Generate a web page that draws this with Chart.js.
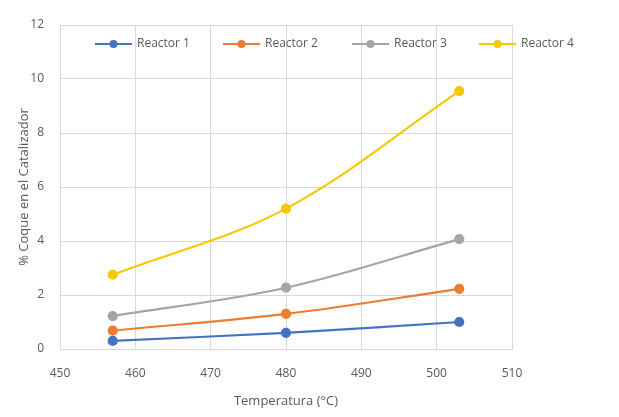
<!DOCTYPE html>
<html lang="es">
<head>
    <meta charset="UTF-8">
    <title>Coque en el catalizador</title>
    <script src="https://cdn.jsdelivr.net/npm/chart.js"></script>
    <style>
        html, body { margin: 0; padding: 0; background: #fff; }
        #wrap { width: 619px; height: 417px; }
    </style>
</head>
<body>
<div id="wrap"><canvas id="chart"></canvas></div>
<script>
    // temperatura (°C) y % coque por reactor
    var temps = [457, 480, 503]
    var reactor1 = [0.3, 0.6, 1.0]
    var reactor2 = [0.68, 1.3, 2.23]
    var reactor3 = [1.22, 2.27, 4.07]
    var reactor4 = [2.75, 5.2, 9.55]
    var names = ['Reactor 1', 'Reactor 2', 'Reactor 3', 'Reactor 4']
    var colors = ['#4472c4', '#ed7d31', '#a5a5a5', '#f5c800']
    var xTicks = [450, 460, 470, 480, 490, 500, 510]
    var yTicks = [0, 2, 4, 6, 8, 10, 12]

    var font = "'Open Sans', 'DejaVu Sans', sans-serif"
    var textColor = '#595959'

    function serie(i, vals){
        return {
            label: names[i],
            data: temps.map(function(t, k){ return {x: t, y: vals[k]} }),
            borderColor: colors[i],
            backgroundColor: colors[i],
            borderWidth: 2.2,
            pointRadius: 4,
            pointHoverRadius: 4,
            tension: 0.35
        }
    }

    // leyenda dentro del area del grafico
    var innerLegend = {
        id: 'innerLegend',
        afterDraw: function(chart){
            var ctx = chart.ctx
            var area = chart.chartArea
            var y = area.top + 19
            var starts = [95, 223, 352, 479]
            ctx.save()
            ctx.font = '12px ' + font
            ctx.textBaseline = 'middle'
            chart.data.datasets.forEach(function(ds, i){
                var x = starts[i]
                ctx.strokeStyle = ds.borderColor
                ctx.lineWidth = 2.2
                ctx.beginPath()
                ctx.moveTo(x, y)
                ctx.lineTo(x + 37, y)
                ctx.stroke()
                ctx.fillStyle = ds.borderColor
                ctx.beginPath()
                ctx.arc(x + 18.5, y, 4, 0, Math.PI * 2)
                ctx.fill()
                ctx.fillStyle = textColor
                ctx.fillText(ds.label, x + 42, y)
            })
            ctx.restore()
        }
    }

    var canvas = document.getElementById('chart')
    var chart = new Chart(canvas, {
        type: 'line',
        data: {
            datasets: [
                serie(0, reactor1),
                serie(1, reactor2),
                serie(2, reactor3),
                serie(3, reactor4)
            ]
        },
        options: {
            responsive: true,
            maintainAspectRatio: false,
            animation: false,
            layout: { padding: { top: 25, right: 107, bottom: 4, left: 12 } },
            plugins: {
                legend: { display: false },
                tooltip: { enabled: false }
            },
            scales: {
                x: {
                    type: 'linear',
                    min: 450,
                    max: 510,
                    afterBuildTicks: function(axis){ axis.ticks = xTicks.map(function(v){ return {value: v} }) },
                    afterFit: function(axis){ axis.height = 64 },
                    grid: { color: '#d9d9d9', drawTicks: false },
                    border: { color: '#d9d9d9' },
                    ticks: { color: textColor, font: { family: font, size: 12 }, padding: 17 },
                    title: { display: true, text: 'Temperatura (°C)', color: textColor, font: { family: font, size: 13 }, padding: { top: 2 } }
                },
                y: {
                    min: 0,
                    max: 12,
                    afterBuildTicks: function(axis){ axis.ticks = yTicks.map(function(v){ return {value: v} }) },
                    afterFit: function(axis){ axis.width = 48 },
                    grid: { color: '#d9d9d9', drawTicks: false },
                    border: { display: false },
                    ticks: { color: textColor, font: { family: font, size: 12 }, padding: 16 },
                    title: { display: true, text: '% Coque en el Catalizador', color: textColor, font: { family: font, size: 13 }, padding: { bottom: 2 } }
                }
            }
        },
        plugins: [innerLegend]
    })
</script>
</body>
</html>
